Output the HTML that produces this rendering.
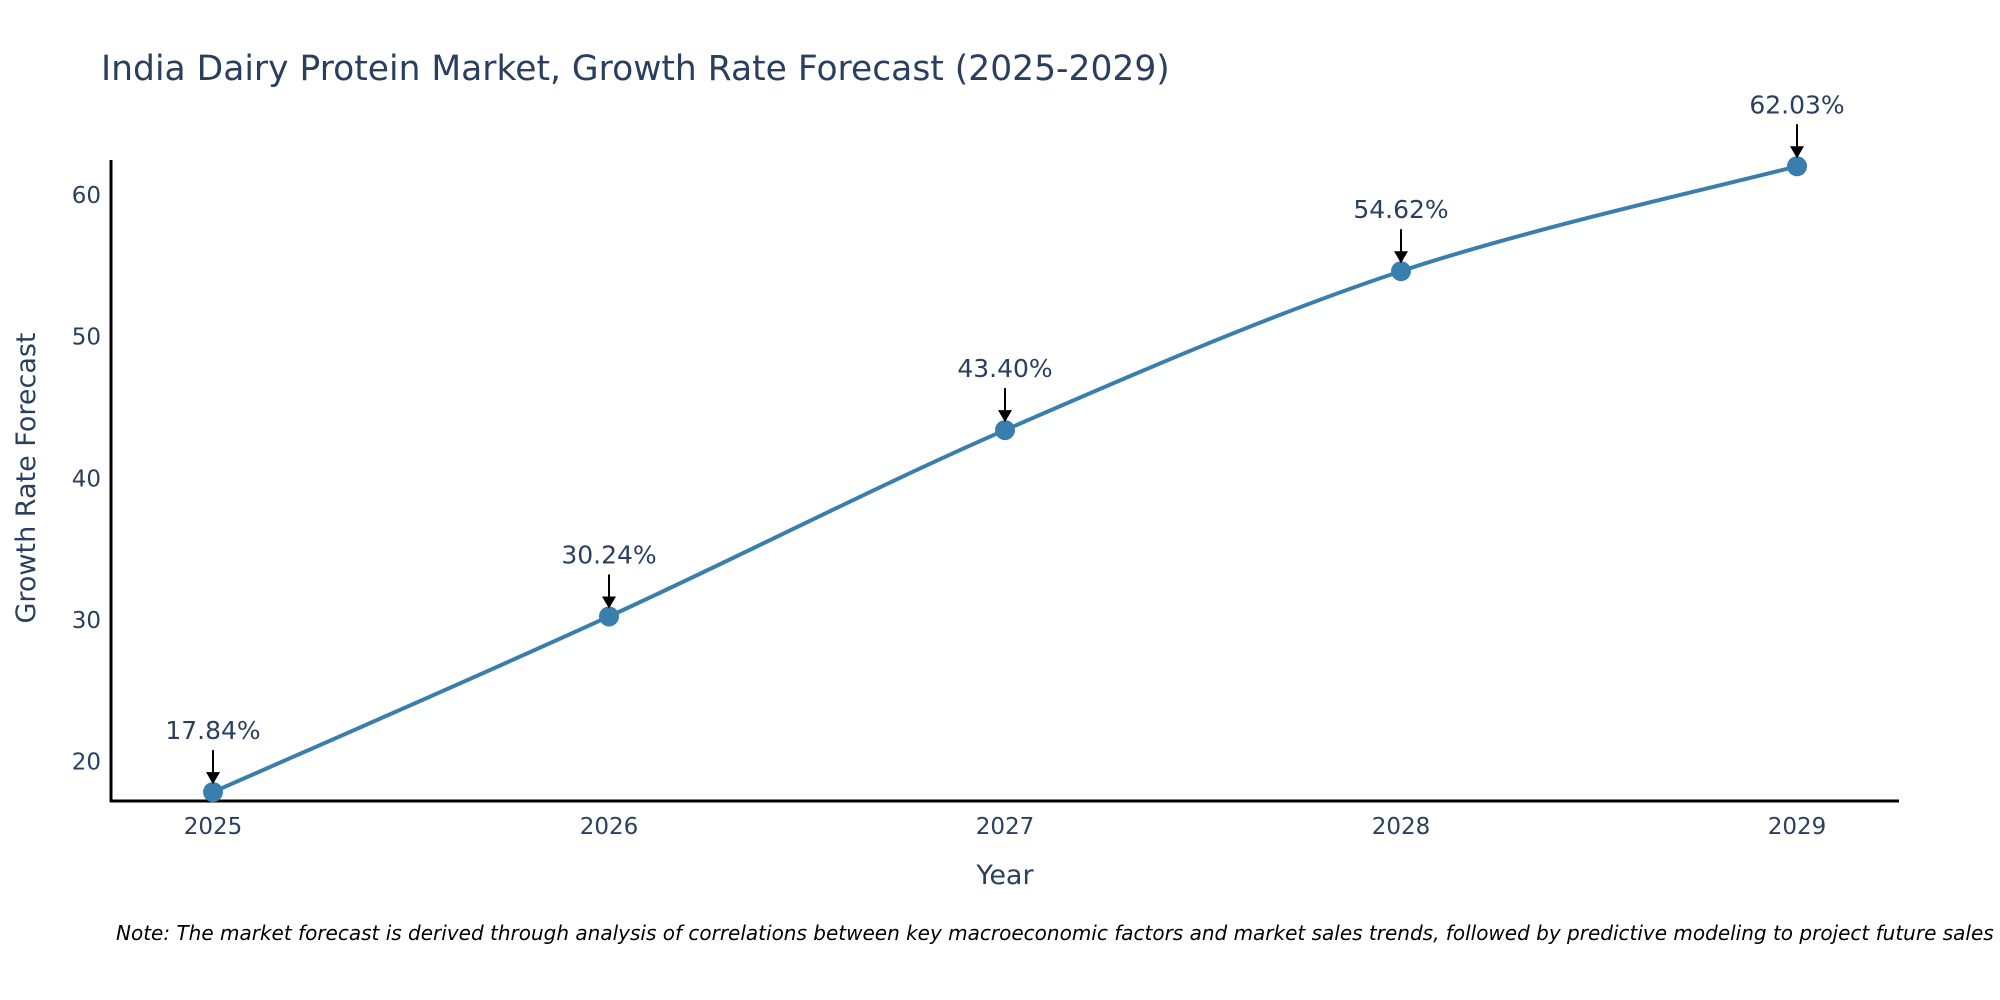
<!DOCTYPE html>
<html><head><meta charset="utf-8"><style>
body{margin:0;background:#fff;}
svg{display:block;font-family:"DejaVu Sans","Liberation Sans",sans-serif;}
</style></head><body>
<svg id="chart" width="2000" height="1000">
<text x="101" y="80" font-size="34.5" fill="#2a3f5f">India Dairy Protein Market, Growth Rate Forecast (2025-2029)</text>
<g id="yticks"></g><g id="xticks"></g>
<line x1="111" y1="160" x2="111" y2="802" stroke="#000" stroke-width="3"/>
<line x1="110" y1="801" x2="1899" y2="801" stroke="#000" stroke-width="3"/>
<text x="1005" y="884" font-size="27" fill="#2a3f5f" text-anchor="middle">Year</text>
<text transform="translate(35,478) rotate(-90)" font-size="27" fill="#2a3f5f" text-anchor="middle">Growth Rate Forecast</text>
<path id="line" fill="none" stroke="#3a7eae" stroke-width="4"/>
<g id="marks"></g>
<text x="116" y="940" font-size="20" font-style="italic" fill="#000">Note: The market forecast is derived through analysis of correlations between key macroeconomic factors and market sales trends, followed by predictive modeling to project future sales</text>
</svg>
<script>
const years=[2025,2026,2027,2028,2029];
const values=[17.84,30.24,43.40,54.62,62.03];
const labels=["17.84%","30.24%","43.40%","54.62%","62.03%"];
const yTicks=[20,30,40,50,60];
const NS="http://www.w3.org/2000/svg";
const xS=v=>213+(v-2025)*(1797-213)/4;
const yS=v=>761.5-(v-20)*(761.5-195)/40;
function mk(t,a,p){const e=document.createElementNS(NS,t);for(const k in a)e.setAttribute(k,a[k]);p.appendChild(e);return e;}
const yt=document.getElementById('yticks');
yTicks.forEach(v=>{const t=mk('text',{x:101,y:yS(v)+8,'font-size':23,fill:'#2a3f5f','text-anchor':'end'},yt);t.textContent=v;

});
const xt=document.getElementById('xticks');
years.forEach(v=>{const t=mk('text',{x:xS(v),y:834,'font-size':23,fill:'#2a3f5f','text-anchor':'middle'},xt);t.textContent=v;

});
const pts=years.map((y,i)=>[xS(y),yS(values[i])]);
let d=`M${pts[0][0]},${pts[0][1]}`;
for(let i=0;i<pts.length-1;i++){const p0=pts[i-1]||pts[i],p1=pts[i],p2=pts[i+1],p3=pts[i+2]||p2;const k=6;
d+=` C${p1[0]+(p2[0]-p0[0])/k},${p1[1]+(p2[1]-p0[1])/k} ${p2[0]-(p3[0]-p1[0])/k},${p2[1]-(p3[1]-p1[1])/k} ${p2[0]},${p2[1]}`;}
document.getElementById('line').setAttribute('d',d);
const g=document.getElementById('marks');
pts.forEach((p,i)=>{
const c=mk('circle',{cx:p[0],cy:p[1],r:10,fill:'#3a7eae'},g);


const l=mk('line',{x1:p[0],y1:p[1]-42,x2:p[0],y2:p[1]-18,stroke:'#000','stroke-width':2},g);


const a=mk('polygon',{points:`${p[0]-7},${p[1]-20} ${p[0]+7},${p[1]-20} ${p[0]},${p[1]-8}`,fill:'#000'},g);


const t=mk('text',{x:p[0],y:p[1]-53,'font-size':25,fill:'#2a3f5f','text-anchor':'middle'},g);t.textContent=labels[i];


});
</script>
</body></html>
